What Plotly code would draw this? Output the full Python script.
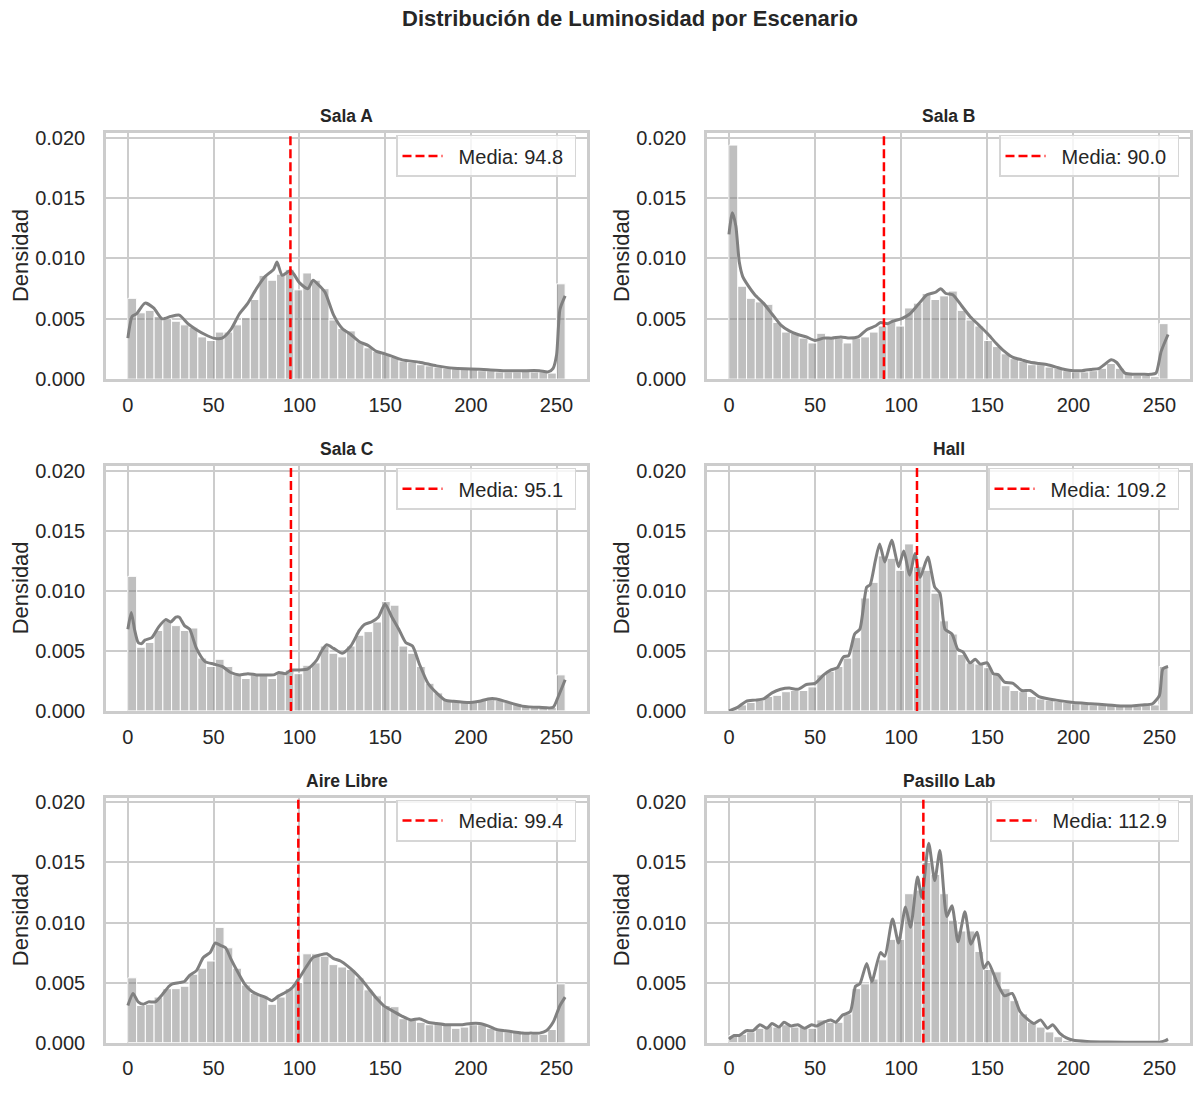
import numpy as np
import plotly.graph_objects as go

# Datos (densidad por bin, 50 bins entre 0 y 255)
escenarios = ["Sala A", "Sala B", "Sala C", "Hall", "Aire Libre", "Pasillo Lab"]
medias = [94.8, 90.0, 95.1, 109.2, 99.4, 112.9]
bordes_bins = np.linspace(0, 255, 51)

sala_a_hist = [
    0.0067, 0.0055, 0.0057, 0.0052, 0.0050, 0.0048, 0.0045, 0.0043, 0.0035, 0.0032,
    0.0039, 0.0039, 0.0045, 0.0051, 0.0066, 0.0086, 0.0082, 0.0087, 0.0091, 0.0074,
    0.0088, 0.0082, 0.0075, 0.0049, 0.0042, 0.0040, 0.0031, 0.0026, 0.0023, 0.0021,
    0.0018, 0.0015, 0.0014, 0.0012, 0.0011, 0.0010, 0.0009, 0.00085, 0.0008, 0.0008,
    0.0007, 0.0007, 0.0006, 0.0006, 0.0006, 0.0007, 0.0006, 0.0006, 0.0005, 0.0079,
]
sala_b_hist = [
    0.0194, 0.0077, 0.0067, 0.0064, 0.0062, 0.0047, 0.0039, 0.0038, 0.0034, 0.0030,
    0.0038, 0.0034, 0.0034, 0.0030, 0.0034, 0.0035, 0.0039, 0.0044, 0.0048, 0.0044,
    0.0059, 0.0063, 0.0071, 0.0066, 0.0069, 0.0073, 0.0057, 0.0049, 0.0044, 0.0032,
    0.0027, 0.0021, 0.0017, 0.0015, 0.0012, 0.0012, 0.0010, 0.0009, 0.0007, 0.0006,
    0.0006, 0.0007, 0.0009, 0.0013, 0.0009, 0.0004, 0.0003, 0.0003, 0.0002, 0.0046,
]
sala_c_hist = [
    0.0112, 0.0053, 0.0057, 0.0067, 0.0075, 0.0071, 0.0067, 0.0069, 0.0044, 0.0037,
    0.0043, 0.0037, 0.0030, 0.0027, 0.0030, 0.0031, 0.0027, 0.0032, 0.0034, 0.0031,
    0.0038, 0.0040, 0.0054, 0.0048, 0.0045, 0.0054, 0.0063, 0.0066, 0.0074, 0.0091,
    0.0088, 0.0054, 0.0048, 0.0037, 0.0023, 0.0015, 0.0009, 0.0008, 0.0007, 0.0007,
    0.0009, 0.0010, 0.0009, 0.0007, 0.0006, 0.0004, 0.0004, 0.0004, 0.0003, 0.0030,
]
hall_hist = [
    0.0001, 0.0005, 0.0007, 0.0009, 0.0012, 0.0013, 0.0016, 0.0017, 0.0017, 0.0020,
    0.0030, 0.0033, 0.0037, 0.0044, 0.0061, 0.0094, 0.0107, 0.0129, 0.0127, 0.0117,
    0.0139, 0.0120, 0.0117, 0.0098, 0.0075, 0.0064, 0.0047, 0.0040, 0.0039, 0.0036,
    0.0030, 0.0021, 0.0017, 0.0016, 0.0012, 0.0010, 0.0009, 0.0008, 0.0007, 0.0006,
    0.0006, 0.0005, 0.0005, 0.0006, 0.0005, 0.0004, 0.0004, 0.0005, 0.0005, 0.0037,
]
aire_libre_hist = [
    0.0054, 0.0031, 0.0032, 0.0038, 0.0045, 0.0045, 0.0047, 0.0057, 0.0062, 0.0068,
    0.0096, 0.0079, 0.0062, 0.0048, 0.0041, 0.0039, 0.0032, 0.0038, 0.0045, 0.0050,
    0.0074, 0.0074, 0.0072, 0.0065, 0.0063, 0.0061, 0.0054, 0.0044, 0.0039, 0.0031,
    0.0030, 0.0020, 0.0019, 0.0017, 0.0015, 0.0016, 0.0015, 0.0012, 0.0013, 0.0015,
    0.0015, 0.0012, 0.0010, 0.0009, 0.0009, 0.0008, 0.0007, 0.0007, 0.0011, 0.0049,
]
pasillo_hist = [
    0.0006, 0.0007, 0.0009, 0.0012, 0.0014, 0.0013, 0.0015, 0.0013, 0.0013, 0.0012,
    0.0019, 0.0017, 0.0017, 0.0024, 0.0045, 0.0049, 0.0053, 0.0069, 0.0086, 0.0086,
    0.0124, 0.0127, 0.0150, 0.0140, 0.0124, 0.0102, 0.0093, 0.0093, 0.0076, 0.0061,
    0.0059, 0.0045, 0.0035, 0.0024, 0.0017, 0.0013, 0.0009, 0.0005, 0.0002, 0.0001,
    0.0001, 0.0001, 0.00005, 0.00005, 0.00005, 0.00005, 0.00005, 0.00005, 0.00005, 0.0002,
]

# Curvas KDE (x, densidad)
sala_a_kde_x = [0, 2.5, 5, 10, 15, 20, 25, 30, 35, 40, 45, 50, 55, 60, 65, 70, 75, 80,
                85, 87, 90, 95, 100, 105, 108, 112, 115, 120, 125, 130, 135, 140, 145,
                150, 160, 170, 180, 190, 200, 210, 220, 230, 240, 245, 248, 250, 252, 255]
sala_a_kde_y = [0.0034, 0.0052, 0.0054, 0.0063, 0.0059, 0.0050, 0.0052, 0.0053, 0.0046,
                0.0041, 0.0037, 0.0034, 0.0034, 0.0041, 0.0054, 0.0063, 0.0075, 0.0085,
                0.0091, 0.0097, 0.0086, 0.0090, 0.0080, 0.0075, 0.0082, 0.0077, 0.0072,
                0.0053, 0.0042, 0.0037, 0.0031, 0.0028, 0.0023, 0.0021, 0.0016, 0.0014,
                0.0011, 0.0009, 0.00085, 0.00077, 0.0007, 0.0007, 0.0007, 0.0006, 0.0009,
                0.0020, 0.0058, 0.0069]

sala_b_kde_x = [0, 2, 4, 6, 8, 10, 15, 20, 25, 30, 35, 40, 45, 50, 55, 60, 65, 70, 75,
                80, 85, 88, 92, 95, 100, 105, 110, 115, 120, 123, 126, 130, 135, 140,
                145, 150, 155, 160, 165, 170, 175, 180, 185, 190, 195, 200, 205, 210,
                215, 218, 222, 225, 230, 235, 240, 245, 248, 251, 255]
sala_b_kde_y = [0.0120, 0.0138, 0.0127, 0.0097, 0.0085, 0.0080, 0.0070, 0.0063, 0.0054,
                0.0045, 0.0040, 0.0037, 0.0035, 0.0032, 0.0034, 0.0034, 0.0035, 0.0034,
                0.0035, 0.0041, 0.0044, 0.0047, 0.0046, 0.0048, 0.0050, 0.0054, 0.0062,
                0.0070, 0.0072, 0.0075, 0.0071, 0.0070, 0.0061, 0.0052, 0.0045, 0.0038,
                0.0030, 0.0023, 0.0018, 0.0016, 0.0014, 0.0013, 0.0012, 0.0010, 0.0008,
                0.0007, 0.0007, 0.0008, 0.0009, 0.0012, 0.0016, 0.0014, 0.0005, 0.0004,
                0.0004, 0.0004, 0.0005, 0.0023, 0.0037]

sala_c_kde_x = [0, 2, 4, 6, 8, 10, 14, 18, 22, 25, 28, 30, 33, 36, 40, 45, 50, 55, 60,
                65, 70, 75, 80, 85, 88, 92, 95, 100, 105, 110, 113, 116, 120, 125, 130,
                135, 138, 142, 146, 150, 154, 158, 162, 166, 170, 175, 180, 185, 190,
                200, 205, 210, 215, 220, 230, 240, 248, 251, 255]
sala_c_kde_y = [0.0068, 0.0082, 0.0067, 0.0057, 0.0056, 0.0059, 0.0061, 0.0070, 0.0076,
                0.0074, 0.0078, 0.0078, 0.0071, 0.0068, 0.0052, 0.0041, 0.0039, 0.0037,
                0.0032, 0.0030, 0.0031, 0.0030, 0.0030, 0.0030, 0.0032, 0.0031, 0.0034,
                0.0034, 0.0035, 0.0042, 0.0050, 0.0055, 0.0052, 0.0048, 0.0054, 0.0067,
                0.0072, 0.0074, 0.0078, 0.0089, 0.0078, 0.0068, 0.0057, 0.0054, 0.0039,
                0.0023, 0.0015, 0.0009, 0.0008, 0.0007, 0.0008, 0.0010, 0.0010, 0.0008,
                0.0004, 0.0003, 0.0003, 0.0012, 0.0026]

hall_kde_x = [0, 5, 10, 15, 20, 25, 30, 35, 40, 45, 50, 55, 59, 63, 66.5, 69.5, 73, 76,
              80, 82, 85, 87.5, 90.5, 94.5, 98.5, 101.5, 105, 108, 111, 115.5, 119.5,
              122.5, 125.5, 129.5, 133, 136, 140, 143, 146, 150, 153.5, 156.5, 160, 165,
              170, 175, 180, 190, 200, 210, 220, 230, 240, 246, 250, 252, 255]
hall_kde_y = [0.0000, 0.0003, 0.0008, 0.0009, 0.0010, 0.0015, 0.0018, 0.0019, 0.0018,
              0.0022, 0.0023, 0.0030, 0.0034, 0.0036, 0.0045, 0.0046, 0.0064, 0.0068,
              0.0103, 0.0105, 0.0125, 0.0139, 0.0124, 0.0142, 0.0120, 0.0133, 0.0113,
              0.0131, 0.0111, 0.0128, 0.0103, 0.0098, 0.0068, 0.0064, 0.0051, 0.0049,
              0.0040, 0.0043, 0.0039, 0.0040, 0.0031, 0.0030, 0.0024, 0.0023, 0.0017,
              0.0017, 0.0012, 0.0009, 0.0007, 0.0006, 0.0005, 0.0004, 0.0005, 0.0006,
              0.0013, 0.0035, 0.0037]

aire_libre_kde_x = [0, 3, 6, 9, 12, 16, 20, 24, 26, 30, 33, 36, 40, 44, 48, 51, 54, 57,
                    60, 64, 68, 72, 76, 80, 84, 88, 92, 96, 100, 104, 108, 112, 116, 120,
                    124, 128, 132, 136, 140, 145, 150, 155, 160, 165, 170, 175, 180, 185,
                    190, 195, 200, 205, 210, 215, 220, 225, 230, 235, 240, 244, 248, 252,
                    255]
aire_libre_kde_y = [0.0031, 0.0041, 0.0034, 0.0032, 0.0034, 0.0034, 0.0040, 0.0047,
                    0.0049, 0.0050, 0.0051, 0.0056, 0.0060, 0.0071, 0.0075, 0.0083,
                    0.0081, 0.0079, 0.0070, 0.0059, 0.0049, 0.0043, 0.0040, 0.0038,
                    0.0035, 0.0039, 0.0042, 0.0046, 0.0054, 0.0063, 0.0071, 0.0073,
                    0.0074, 0.0070, 0.0068, 0.0064, 0.0059, 0.0053, 0.0046, 0.0037,
                    0.0030, 0.0026, 0.0022, 0.0019, 0.0020, 0.0017, 0.0016, 0.0015,
                    0.0015, 0.0015, 0.0016, 0.0016, 0.0014, 0.0011, 0.0010, 0.0009,
                    0.0008, 0.0008, 0.0008, 0.0010, 0.0017, 0.0031, 0.0038]

pasillo_kde_x = [0, 3, 6, 10, 14, 18, 22, 25, 29, 32, 36, 40, 44, 48, 51, 55, 59, 62, 66,
                 70.5, 73.5, 76, 80, 83, 88, 90.5, 95, 98.5, 102.5, 105.5, 109.5, 112, 116,
                 119.5, 122.5, 126.5, 129.5, 133, 137, 140.5, 144, 148, 150.5, 156, 160,
                 164.5, 169, 173, 177, 181, 185, 188, 192, 196, 200, 208, 220, 240, 250,
                 253, 255]
pasillo_kde_y = [0.0003, 0.0006, 0.0006, 0.0010, 0.0010, 0.0015, 0.0012, 0.0016, 0.0013,
                 0.0017, 0.0014, 0.0015, 0.0012, 0.0015, 0.0014, 0.0017, 0.0019, 0.0017,
                 0.0023, 0.0026, 0.0047, 0.0049, 0.0066, 0.0051, 0.0075, 0.0072, 0.0103,
                 0.0083, 0.0113, 0.0096, 0.0138, 0.0121, 0.0166, 0.0135, 0.0160, 0.0105,
                 0.0114, 0.0084, 0.0109, 0.0082, 0.0092, 0.0062, 0.0067, 0.0049, 0.0039,
                 0.0041, 0.0026, 0.0020, 0.0016, 0.0019, 0.0012, 0.0015, 0.0008, 0.0004,
                 0.0002, 0.0001, 0.00005, 0.00003, 0.00005, 0.00015, 0.0003]

histogramas = [sala_a_hist, sala_b_hist, sala_c_hist, hall_hist, aire_libre_hist, pasillo_hist]
kdes = [
    (sala_a_kde_x, sala_a_kde_y),
    (sala_b_kde_x, sala_b_kde_y),
    (sala_c_kde_x, sala_c_kde_y),
    (hall_kde_x, hall_kde_y),
    (aire_libre_kde_x, aire_libre_kde_y),
    (pasillo_kde_x, pasillo_kde_y),
]

# Ejes
Y_MAX = 0.0204
X_RANGO = [-12.75, 267.75]
FUENTE = "Liberation Sans, Arial, sans-serif"
TEXTO = "#262626"
GRIS_EJE = "#cccccc"
NBSP = "\u00a0"

W, H = 1199, 1100
col_px = [(106, 587), (707, 1190)]
fila_px = [(129, 379), (467, 716), (804, 1053)]

centros = (bordes_bins[:-1] + bordes_bins[1:]) / 2
ancho_bin = bordes_bins[1] - bordes_bins[0]

fig = go.Figure()
anotaciones = []

for i, nombre in enumerate(escenarios):
    fila, col = divmod(i, 2)
    n = "" if i == 0 else str(i + 1)
    xa, ya = "x" + n, "y" + n
    leyenda = "legend" + n

    fig.add_trace(go.Bar(
        x=centros, y=histogramas[i], width=ancho_bin,
        marker=dict(color="rgba(128,128,128,0.5)", line=dict(color="white", width=1)),
        xaxis=xa, yaxis=ya, showlegend=False, hoverinfo="skip",
    ))
    kx, ky = kdes[i]
    fig.add_trace(go.Scatter(
        x=kx, y=ky, mode="lines",
        line=dict(color="#808080", width=3, shape="spline", smoothing=0.6),
        xaxis=xa, yaxis=ya, showlegend=False,
    ))
    fig.add_trace(go.Scatter(
        x=[medias[i], medias[i]], y=[0, Y_MAX], mode="lines",
        line=dict(color="red", width=2.5, dash="9px,4px"),
        name=f"{NBSP * 2}Media: {medias[i]:.1f}{NBSP}",
        xaxis=xa, yaxis=ya, legend=leyenda, showlegend=True,
    ))

    x0, x1 = col_px[col]
    y0, y1 = fila_px[fila]
    dominio_x = [x0 / W, x1 / W]
    dominio_y = [1 - y1 / H, 1 - y0 / H]

    fig.update_layout({
        "xaxis" + n: dict(
            domain=dominio_x, anchor=ya, range=X_RANGO,
            tickvals=[0, 50, 100, 150, 200, 250],
            showline=True, mirror=True, linecolor=GRIS_EJE, linewidth=2.5,
            showgrid=True, gridcolor=GRIS_EJE, gridwidth=2, zeroline=False,
            ticks="", ticklabelstandoff=6,
            tickfont=dict(family=FUENTE, size=20, color=TEXTO),
        ),
        "yaxis" + n: dict(
            domain=dominio_y, anchor=xa, range=[0, Y_MAX],
            tickvals=[0, 0.005, 0.010, 0.015, 0.020], tickformat=".3f",
            showline=True, mirror=True, linecolor=GRIS_EJE, linewidth=2.5,
            showgrid=True, gridcolor=GRIS_EJE, gridwidth=2, zeroline=False,
            ticks="", ticklabelstandoff=14,
            tickfont=dict(family=FUENTE, size=20, color=TEXTO),
        ),
        leyenda: dict(
            x=(x1 - 11) / W, y=1 - (y0 + 2) / H, xanchor="right", yanchor="top",
            xref="paper", yref="paper",
            bgcolor="rgba(255,255,255,0.8)", bordercolor="#d6d6d6", borderwidth=1.5,
            font=dict(family=FUENTE, size=20, color=TEXTO), itemwidth=40,
        ),
    })

    # Titulo de cada subgrafico
    anotaciones.append(dict(
        text=nombre, x=(x0 + x1) / 2 / W, y=1 - (y0 - 17) / H,
        xref="paper", yref="paper", xanchor="center", yanchor="middle", showarrow=False,
        font=dict(family=FUENTE, size=17.5, color=TEXTO, weight="bold"),
    ))
    # Etiqueta del eje y
    anotaciones.append(dict(
        text="Densidad", x=(x0 - 86) / W, y=1 - (y0 + y1) / 2 / H,
        xref="paper", yref="paper", xanchor="center", yanchor="middle", showarrow=False,
        textangle=-90, font=dict(family=FUENTE, size=22, color=TEXTO),
    ))

fig.update_layout(
    width=W, height=H,
    margin=dict(l=0, r=0, t=0, b=0),
    paper_bgcolor="white", plot_bgcolor="white",
    title=dict(
        text="Distribución de Luminosidad por Escenario",
        x=630 / W, y=1 - 13 / H, xref="paper", yref="paper",
        xanchor="center", yanchor="middle",
        font=dict(family=FUENTE, size=22, color=TEXTO, weight="bold"),
    ),
    annotations=anotaciones,
    barmode="overlay",
)

fig.write_html(
    "out.html",
    config={"displayModeBar": False},
    post_script="document.body.style.margin='0';",
)
